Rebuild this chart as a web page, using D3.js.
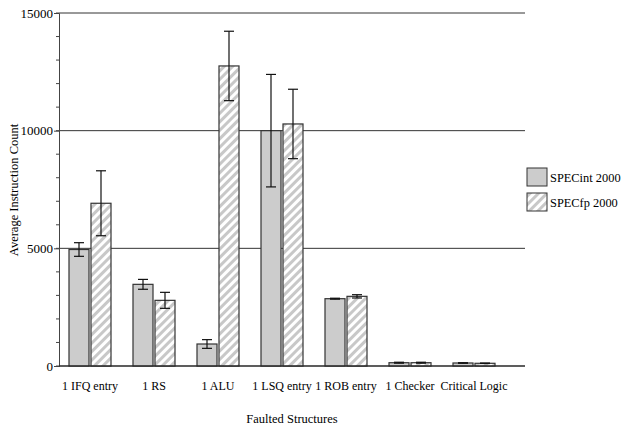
<!DOCTYPE html>
<html><head><meta charset="utf-8">
<script src="https://cdn.jsdelivr.net/npm/d3@7"></script>
<style>body{margin:0;background:#fff}svg{display:block}</style>
</head><body><svg id="c" width="622" height="430"></svg>
<script>
const categories = ["1 IFQ entry","1 RS","1 ALU","1 LSQ entry","1 ROB entry","1 Checker","Critical Logic"];
const seriesNames = ["SPECint 2000","SPECfp 2000"];
const intValues = [4950, 3470, 935, 10000, 2860, 140, 128];
const intErrors = [290, 210, 185, 2390, 20, 20, 10];
const fpValues = [6915, 2790, 12750, 10285, 2960, 140, 115];
const fpErrors = [1380, 340, 1475, 1475, 70, 20, 10];
const yMajorTicks = [0, 5000, 10000, 15000];
const yMinorTicks = d3.range(0, 15001, 1000);
const xTitle = "Faulted Structures";
const yTitle = "Average Instruction Count";

(function(){
const FONT = "Liberation Serif";
const svg = d3.select("#c");
const defs = svg.append("defs");
const pat = defs.append("pattern").attr("id","hatch").attr("patternUnits","userSpaceOnUse")
  .attr("width",6).attr("height",6).attr("patternTransform","rotate(45)");
pat.append("rect").attr("width",6).attr("height",6).attr("fill","#fff");
pat.append("rect").attr("x",0).attr("width",3).attr("height",6).attr("fill","#c8c8c8");

const pL = 59, pR = 525, pT = 13, pB = 366;
const y = d3.scaleLinear().domain([0,15000]).range([pB, pT]);
const x = d3.scaleBand().domain(categories).range([58, 506]).paddingInner(0).paddingOuter(0);
const barW = 20, gap = 2;

svg.append("g").selectAll("line").data(yMajorTicks).join("line")
  .attr("x1",pL).attr("x2",pR).attr("y1",d=>y(d)).attr("y2",d=>y(d))
  .attr("stroke","#333").attr("stroke-width",1);

svg.append("g").selectAll("line").data(yMinorTicks).join("line")
  .attr("x1",pL-3).attr("x2",pL).attr("y1",d=>y(d)).attr("y2",d=>y(d))
  .attr("stroke","#444");

const yAxis = svg.append("g").attr("transform",`translate(${pL},0)`)
  .call(d3.axisLeft(y).tickValues(yMajorTicks).tickSize(5).tickPadding(1).tickFormat(d3.format("d")));
yAxis.select(".domain").attr("stroke","#444");
yAxis.selectAll(".tick line").attr("stroke","#444");
yAxis.selectAll("text").attr("fill","#000").attr("font-family",FONT).attr("font-size",13);

const groups = [
  {vals:intValues, errs:intErrors, fill:"#cccccc", off:-barW-gap/2},
  {vals:fpValues, errs:fpErrors, fill:"url(#hatch)", off:gap/2}
];
groups.forEach(g=>{
  const cx = (c)=> x(c)+x.bandwidth()/2 + g.off;
  svg.append("g").selectAll("rect").data(categories).join("rect")
    .attr("x",c=>cx(c)).attr("width",barW)
    .attr("y",(c,i)=>y(g.vals[i])).attr("height",(c,i)=>pB-y(g.vals[i]))
    .attr("fill",g.fill).attr("stroke","#333").attr("stroke-width",1.2);
  const eb = svg.append("g").attr("stroke","#111").attr("stroke-width",1.2);
  categories.forEach((c,i)=>{
    const m = cx(c)+barW/2, hi=y(g.vals[i]+g.errs[i]), lo=y(g.vals[i]-g.errs[i]);
    eb.append("line").attr("x1",m).attr("x2",m).attr("y1",hi).attr("y2",lo);
    eb.append("line").attr("x1",m-5).attr("x2",m+5).attr("y1",hi).attr("y2",hi);
    eb.append("line").attr("x1",m-5).attr("x2",m+5).attr("y1",lo).attr("y2",lo);
  });
});

svg.append("line").attr("x1",pL).attr("x2",pR).attr("y1",pB).attr("y2",pB).attr("stroke","#222").attr("stroke-width",1.2);

svg.append("g").selectAll("text").data(categories).join("text")
  .attr("x",c=>x(c)+x.bandwidth()/2).attr("y",390).attr("text-anchor","middle")
  .attr("font-family",FONT).attr("font-size",12).attr("fill","#000").text(d=>d);

svg.append("text").attr("x",292).attr("y",423).attr("text-anchor","middle").attr("font-family",FONT).attr("font-size",12.5).attr("fill","#000").text(xTitle);
svg.append("text").attr("transform","translate(18,190) rotate(-90)").attr("text-anchor","middle").attr("font-family",FONT).attr("font-size",12.5).attr("fill","#000").text(yTitle);

const lg = svg.append("g");
seriesNames.forEach((s,i)=>{
  const yy = 168 + i*25;
  lg.append("rect").attr("x",527).attr("y",yy).attr("width",20).attr("height",18)
    .attr("fill", i===0 ? "#cccccc" : "url(#hatch)").attr("stroke","#333");
  lg.append("text").attr("x",550).attr("y",yy+13.5).attr("font-family",FONT).attr("font-size",12.4).attr("fill","#000").text(s);
});
})();
</script></body></html>
